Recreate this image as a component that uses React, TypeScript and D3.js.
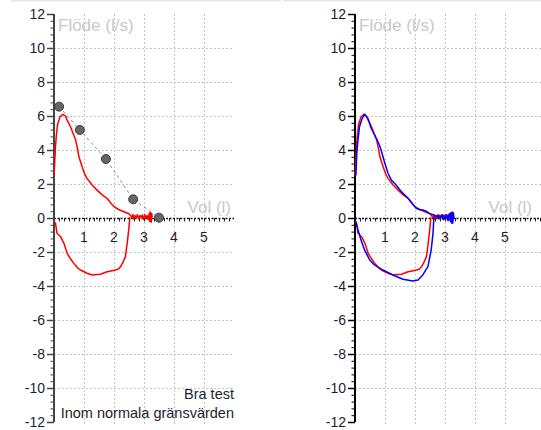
import React, { useEffect, useRef } from 'react';
import * as d3 from 'd3';

// axis ticks
const yTicks = [-12, -10, -8, -6, -4, -2, 0, 2, 4, 6, 8, 10, 12];
const xTicks = [1, 2, 3, 4, 5];

// predicted curve (grey dots)
const predVol = [0.17, 0.86, 1.73, 2.64, 3.5];
const predFlow = [6.55, 5.18, 3.47, 1.1, 0.02];

// trial 1 (red) - expiration
const redExpVol = [0.0, 0.03, 0.05, 0.08, 0.12, 0.2, 0.3, 0.38, 0.44, 0.55, 0.63, 0.72, 0.78, 0.83, 0.94, 1.02, 1.1, 1.2, 1.27, 1.4, 1.55, 1.65, 1.77, 1.88, 2.0, 2.15, 2.33, 2.5,
    2.55, 2.6, 2.63, 2.66, 2.7, 2.74, 2.78, 2.82, 2.86, 2.9, 2.94, 2.98, 3.02, 3.06, 3.1, 3.14, 3.18, 3.2, 3.22, 3.24, 3.26, 3.27];
const redExpFlow = [2.5, 3.5, 4.2, 4.9, 5.5, 5.95, 6.1, 6.0, 5.76, 5.37, 5.0, 4.6, 4.1, 3.6, 3.0, 2.6, 2.33, 2.1, 1.94, 1.7, 1.45, 1.3, 1.16, 0.9, 0.67, 0.5, 0.37, 0.25,
    0.15, 0.05, 0.2, -0.05, 0.15, 0.0, 0.2, -0.05, 0.15, 0.02, 0.18, -0.08, 0.2, 0.0, 0.15, -0.1, 0.3, -0.2, 0.32, -0.25, 0.25, 0.05];
// trial 1 (red) - inspiration
const redInspVol = [0, 0.05, 0.1, 0.22, 0.33, 0.44, 0.55, 0.66, 0.77, 0.88, 1.1, 1.27, 1.4, 1.55, 1.77, 2.05, 2.15, 2.22, 2.3, 2.38, 2.44, 2.49, 2.53];
const redInspFlow = [-0.2, -0.31, -0.9, -1.1, -1.49, -2.08, -2.4, -2.67, -2.9, -3.06, -3.25, -3.35, -3.33, -3.31, -3.16, -3.06, -3.0, -2.86, -2.6, -2.27, -1.49, -0.7, 0.05];

// trial 2 (blue) - expiration
const blueExpVol = [0.03, 0.06, 0.1, 0.15, 0.24, 0.32, 0.43, 0.54, 0.62, 0.71, 0.8, 0.87, 0.98, 1.1, 1.21, 1.37, 1.5, 1.6, 1.72, 1.82, 1.93, 2.04, 2.15, 2.26, 2.37, 2.48, 2.6, 2.7,
    2.74, 2.78, 2.82, 2.86, 2.9, 2.94, 2.98, 3.02, 3.06, 3.1, 3.14, 3.18, 3.2, 3.22, 3.24, 3.26, 3.28, 3.3];
const blueExpFlow = [2.5, 3.8, 4.6, 5.37, 5.86, 6.1, 5.86, 5.28, 5.0, 4.69, 4.35, 4.0, 3.31, 2.63, 2.24, 1.94, 1.65, 1.45, 1.25, 1.06, 0.8, 0.57, 0.5, 0.47, 0.4, 0.27, 0.2, 0.1,
    0.15, -0.05, 0.15, 0.0, 0.2, -0.1, 0.15, -0.05, 0.2, -0.15, 0.25, -0.2, 0.3, -0.3, 0.35, -0.3, 0.3, 0.0];
// trial 2 (blue) - inspiration
const blueInspVol = [0.03, 0.1, 0.2, 0.32, 0.49, 0.65, 0.93, 1.26, 1.6, 1.93, 2.1, 2.26, 2.43, 2.54, 2.6, 2.63];
const blueInspFlow = [-0.2, -0.7, -1.3, -1.88, -2.47, -2.76, -3.06, -3.35, -3.6, -3.7, -3.65, -3.35, -2.86, -1.88, -0.9, 0.05];

const statusLines = ['Bra test', 'Inom normala gränsvärden'];

const FONT = '"Liberation Sans", Arial, sans-serif';
const W = 541;
const H = 430;

type Loop = { vol: number[]; flow: number[]; color: string };

const App: React.FC = () => {
    const svgRef = useRef<SVGSVGElement>(null);

    useEffect(() => {
        if (!svgRef.current) return;
        const svg = d3.select(svgRef.current);
        svg.selectAll('*').remove();

        // thin grey frame lines at the top of each panel
        svg.append('line').attr('x1', 11).attr('x2', 281).attr('y1', 0.5).attr('y2', 0.5)
            .attr('stroke', '#e6e6e6').attr('stroke-width', 2);
        svg.append('line').attr('x1', 283).attr('x2', W).attr('y1', 0.5).attr('y2', 0.5)
            .attr('stroke', '#e6e6e6').attr('stroke-width', 2);

        const y = d3.scaleLinear().domain([-12, 12]).range([422, 14]);

        const drawPanel = (x0: number, gridEnd: number, loops: Loop[], axisColor: string, withPred: boolean, withStatus: boolean) => {
            const x = d3.scaleLinear().domain([0, 1]).range([x0, x0 + 30]);
            const g = svg.append('g');

            // grid
            xTicks.forEach(t => {
                g.append('line')
                    .attr('x1', x(t) + 0.5).attr('x2', x(t) + 0.5)
                    .attr('y1', y(12)).attr('y2', y(-12) + 2)
                    .attr('stroke', '#c4c4c4').attr('stroke-dasharray', '2,2');
            });
            yTicks.filter(t => t !== 0 && Math.abs(t) !== 12).forEach(t => {
                g.append('line')
                    .attr('x1', x0).attr('x2', gridEnd)
                    .attr('y1', y(t) + 0.5).attr('y2', y(t) + 0.5)
                    .attr('stroke', '#c4c4c4').attr('stroke-dasharray', '2,2');
            });

            // x axis (dotted with small ticks)
            g.append('line')
                .attr('x1', x0).attr('x2', gridEnd)
                .attr('y1', y(0) + 0.5).attr('y2', y(0) + 0.5)
                .attr('stroke', '#111').attr('stroke-width', 1.5).attr('stroke-dasharray', '2,1.5');
            d3.range(x0, gridEnd, 5).forEach(px => {
                g.append('line')
                    .attr('x1', px + 0.5).attr('x2', px + 0.5)
                    .attr('y1', y(0)).attr('y2', y(0) + 3.5)
                    .attr('stroke', '#222');
            });

            // y axis
            g.append('line')
                .attr('x1', x0).attr('x2', x0)
                .attr('y1', y(12)).attr('y2', y(-12))
                .attr('stroke', axisColor).attr('stroke-width', 2);
            d3.range(-12, 12.001, 0.4).forEach(v => {
                g.append('line')
                    .attr('x1', x0 - 3.5).attr('x2', x0)
                    .attr('y1', y(v) + 0.5).attr('y2', y(v) + 0.5)
                    .attr('stroke', axisColor);
            });
            yTicks.forEach(t => {
                g.append('line')
                    .attr('x1', x0 - 7).attr('x2', x0)
                    .attr('y1', y(t) + 0.5).attr('y2', y(t) + 0.5)
                    .attr('stroke', axisColor).attr('stroke-width', 1.5);
                g.append('text')
                    .attr('x', x0 - 9).attr('y', y(t) + 5)
                    .attr('text-anchor', 'end')
                    .style('font-family', FONT).style('font-size', '14px').style('fill', '#1e1e2e')
                    .text(t);
            });
            xTicks.forEach(t => {
                g.append('text')
                    .attr('x', x(t)).attr('y', y(0) + 24)
                    .attr('text-anchor', 'middle')
                    .style('font-family', FONT).style('font-size', '14px').style('fill', '#1e1e2e')
                    .text(t);
            });

            // axis titles
            g.append('text')
                .attr('x', x0 + 4).attr('y', 31)
                .style('font-family', FONT).style('font-size', '17px').style('fill', '#c8c8c8')
                .text('Flöde (l/s)');
            g.append('text')
                .attr('x', x0 + 177).attr('y', y(0) - 5)
                .attr('text-anchor', 'end')
                .style('font-family', FONT).style('font-size', '17px').style('fill', '#c8c8c8')
                .text('Vol (l)');

            const line = d3.line<number>()
                .x(d => x(d))
                .y((d, i) => 0);

            // predicted
            if (withPred) {
                const pred = d3.line<number>()
                    .x(d => x(d))
                    .y((d, i) => y(predFlow[i]));
                g.append('path')
                    .datum(predVol)
                    .attr('fill', 'none')
                    .attr('stroke', '#8a8a8a')
                    .attr('stroke-dasharray', '3,3')
                    .attr('d', pred);
            }

            loops.forEach(l => {
                const ln = d3.line<number>()
                    .x(d => x(d))
                    .y((d, i) => y(l.flow[i]));
                g.append('path')
                    .datum(l.vol)
                    .attr('fill', 'none')
                    .attr('stroke', l.color)
                    .attr('stroke-width', 1.5)
                    .attr('stroke-linejoin', 'round')
                    .attr('d', ln);
            });
            void line;

            if (withPred) {
                predVol.forEach((v, i) => {
                    g.append('circle')
                        .attr('cx', x(v)).attr('cy', y(predFlow[i]))
                        .attr('r', 4.5)
                        .attr('fill', '#666')
                        .attr('stroke', '#3a3a3a');
                });
            }

            if (withStatus) {
                statusLines.forEach((s, i) => {
                    g.append('text')
                        .attr('x', gridEnd).attr('y', 399 + i * 19)
                        .attr('text-anchor', 'end')
                        .style('font-family', FONT).style('font-size', '14.5px').style('fill', '#1e1e2e')
                        .text(s);
                });
            }
        };

        drawPanel(54, 234, [
            { vol: redExpVol, flow: redExpFlow, color: '#ff0000' },
            { vol: redInspVol, flow: redInspFlow, color: '#ff0000' },
        ], '#444', true, true);

        drawPanel(355, W, [
            { vol: redExpVol, flow: redExpFlow, color: '#ff0000' },
            { vol: redInspVol, flow: redInspFlow, color: '#ff0000' },
            { vol: blueExpVol, flow: blueExpFlow, color: '#0000ff' },
            { vol: blueInspVol, flow: blueInspFlow, color: '#0000ff' },
        ], '#000', false, false);
    }, []);

    return (
        <div style={{ position: 'absolute', left: 0, top: 0, width: W, height: H, background: '#fff' }}>
            <svg ref={svgRef} width={W} height={H} style={{ display: 'block' }} />
        </div>
    );
};

export default App;
